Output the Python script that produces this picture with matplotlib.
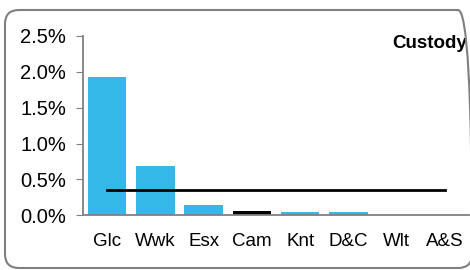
import matplotlib
matplotlib.use("Agg")
import matplotlib.pyplot as plt
from matplotlib.patches import FancyBboxPatch
from matplotlib.ticker import FuncFormatter

# data (in %)
areas = ["Glc", "Wwk", "Esx", "Cam", "Knt", "D&C", "Wlt", "A&S"]
custody = [1.93, 0.69, 0.15, 0.055, 0.04, 0.04, 0.0, 0.0]
average = [0.355] * len(areas)
highlight = "Cam"

plt.rcParams['font.family'] = ['Liberation Sans', 'DejaVu Sans']

fig = plt.figure(figsize=(4.7, 2.7), dpi=100)
ax = fig.add_axes([83 / 470, 1 - 215.3 / 270, 386 / 470, (215.3 - 36) / 270])

cols = ["#000000" if a == highlight else "#33b8e8" for a in areas]
x = list(range(len(areas)))
ax.bar(x, custody, width=0.8, color=cols, zorder=2)
ax.plot(x, average, color="black", lw=2, zorder=3)

ax.set_xlim(-0.5, len(areas) - 0.5)
ax.set_ylim(0, 2.5)
ax.set_yticks([0, 0.5, 1.0, 1.5, 2.0, 2.5])
ax.yaxis.set_major_formatter(FuncFormatter(lambda v, p: "%.1f%%" % v))
ax.set_xticks(x)
ax.set_xticklabels(areas)

for s in ["top", "right"]:
    ax.spines[s].set_visible(False)
for s in ["left", "bottom"]:
    ax.spines[s].set_color("#808080")
    ax.spines[s].set_linewidth(1.3)
ax.tick_params(axis="y", length=5, color="#808080", labelsize=14.5, pad=7)
ax.tick_params(axis="x", length=0, labelsize=13.5, pad=13)

ax.text(0.995, 0.96, "Custody", transform=ax.transAxes, ha="right", va="center",
        fontsize=13.5, fontweight="bold")

# rounded border round the whole chart
box = FancyBboxPatch((0.05, 0.02), 4.67, 2.58, boxstyle="round,pad=0,rounding_size=0.14",
                     transform=fig.dpi_scale_trans, fill=False, edgecolor="#7f7f7f", lw=1.5)
fig.patches.append(box)

fig.savefig("out.png", dpi=100)
